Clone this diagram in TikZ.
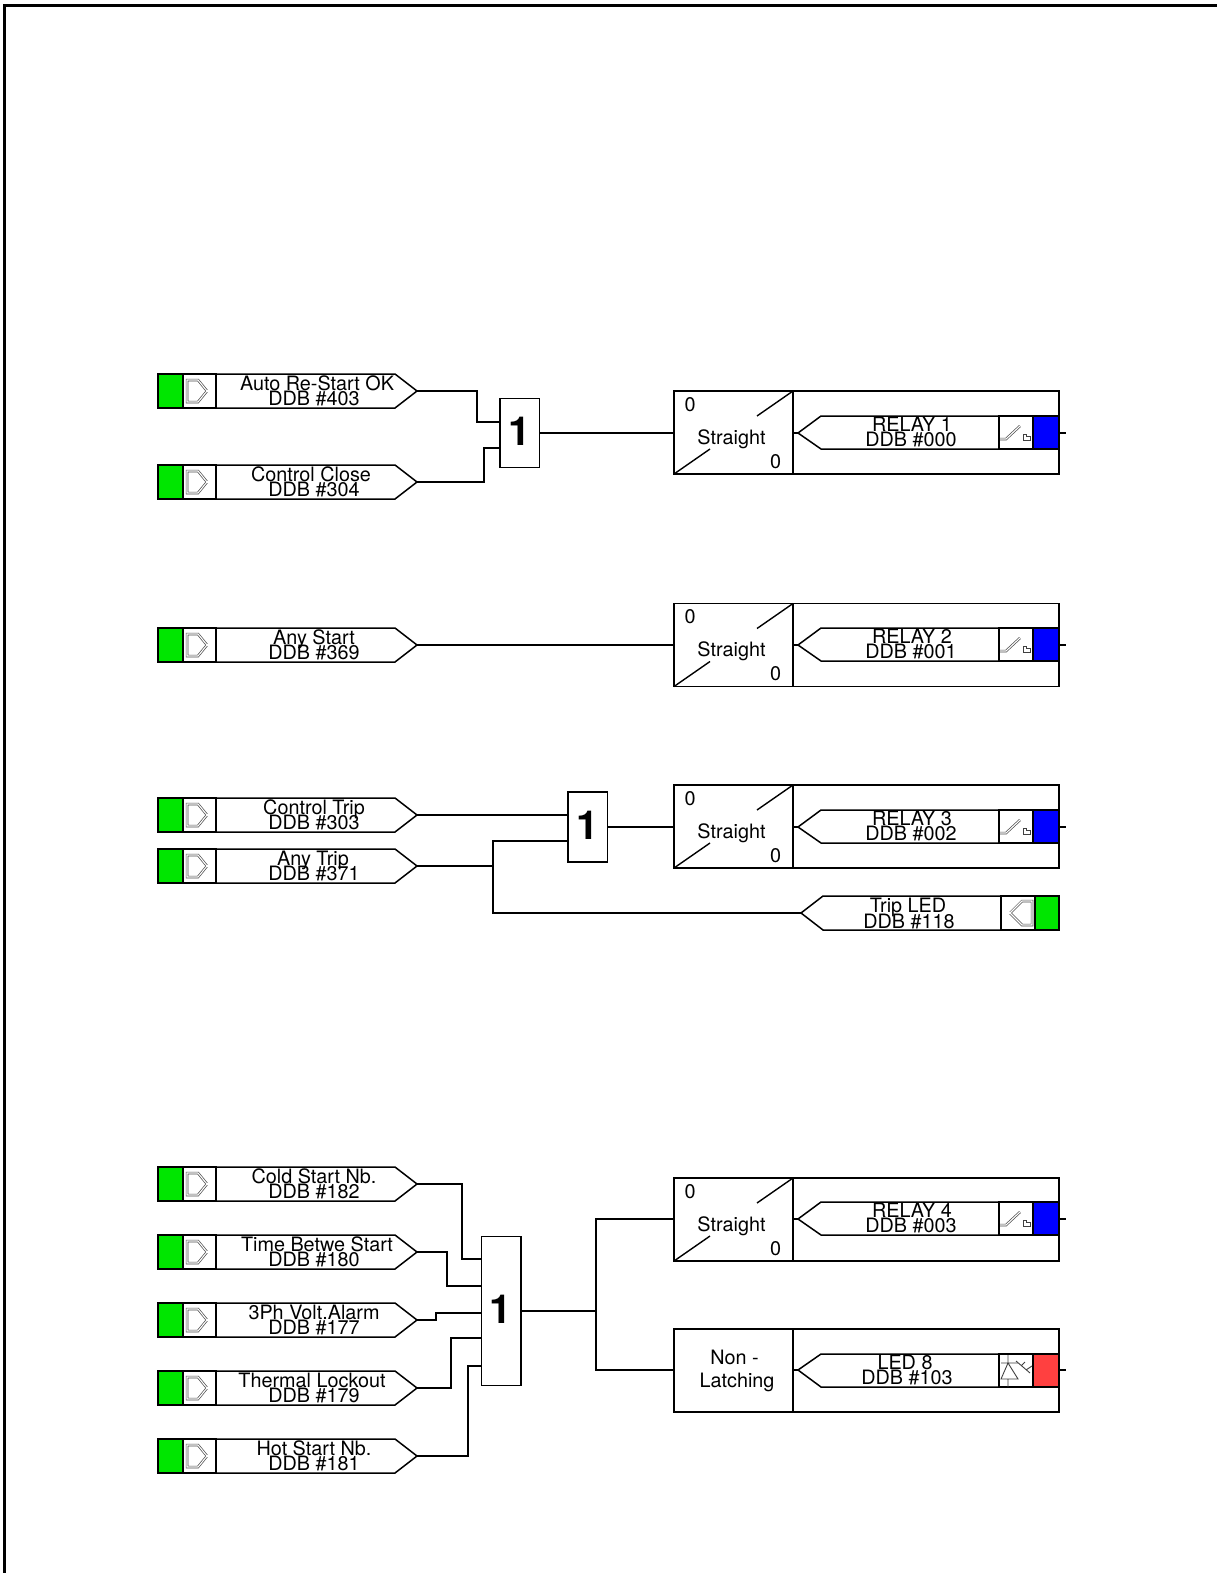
\documentclass[tikz,border=0pt]{standalone}
\usepackage{fontspec}
\setmainfont{TeX Gyre Heros}
\definecolor{ingreen}{HTML}{00E600}
\definecolor{relayblue}{HTML}{0000FF}
\definecolor{ledred}{HTML}{FF4040}
\tikzset{
  wire/.style={line width=1.4pt,line join=miter,black},
  outline/.style={line width=1.5pt,line join=miter,black,fill=white},
  txt/.style={inner sep=0pt,anchor=base,font=\fontsize{19.8}{20}\selectfont,text=black},
  bigone/.style={inner sep=0pt,anchor=center,font=\fontsize{40}{40}\selectfont\bfseries,text=black},
  orbox/.style={draw,line width=1.5pt,fill=white,inner sep=0pt,minimum width=39.5pt},
  icon/.style={line width=.7pt,draw=black!70,double=white,double distance=1.1pt,line join=miter},
}
\newcommand{\GateOne}{\raisebox{2.5pt}{1}}
% name, mid y, line-one text, its x, number text
\newcommand{\InTag}[5]{%
  \filldraw[outline] (216,#2-17)--(395,#2-17)--(417,#2)--(395,#2+17)--(216,#2+17)--cycle;
  \filldraw[outline] (183,#2-17) rectangle (216,#2+17);
  \filldraw[line width=1.5pt,draw=black,fill=ingreen] (158,#2-17) rectangle (183,#2+17);
  \draw[icon] (187,#2-11)--(198,#2-11)--(207,#2)--(198,#2+11)--(187,#2+11)--cycle;
  \draw[icon] (207,#2)--(214,#2);
  \node[txt] (#1a) at (#4,#2-0.5) {#3};
  \node[txt] (#1b) at (314,#2+14) {#5};
  \coordinate (#1) at (417,#2);
}
\newcommand{\OutFrame}[1]{%
  \filldraw[outline] (674,#1) rectangle (1059,#1+83);
  \draw[wire] (793,#1) -- (793,#1+83);
}
% relay tag: name, mid y, text, x1, number, x2
\newcommand{\RelayTag}[6]{%
  \draw[wire] (793,#2)--(798,#2);
  \draw[wire] (1059,#2)--(1066,#2);
  \filldraw[outline] (798,#2)--(821,#2-17)--(999,#2-17)--(999,#2+16)--(821,#2+16)--cycle;
  \filldraw[outline] (999,#2-17) rectangle (1033,#2+16);
  \filldraw[line width=1.5pt,draw=black,fill=relayblue] (1033,#2-17) rectangle (1059,#2+16);
  \draw[icon] (1000,#2+6)--(1006,#2+6)--(1020,#2-7);
  \draw[line width=.8pt,black!75] (1023,#2+1)--(1023,#2+7)--(1030,#2+7)--(1030,#2+3.5)--(1026,#2+3.5)--(1026,#2+1)--cycle;
  \node[txt] (#1a) at (#4,#2-1.5) {#3};
  \node[txt] (#1b) at (#6,#2+13.5) {#5};
  \coordinate (#1) at (674,#2);
}
% straight block: top y
\newcommand{\Straight}[2]{%
  \OutFrame{#2}
  \draw[wire] (793,#2)--(757,#2+25);
  \draw[wire] (674,#2+83)--(710,#2+58);
  \node[txt] (#1z) at (690,#2+20) {0};
  \node[txt] (#1s) at (731.5,#2+53) {Straight};
  \node[txt] (#1o) at (775.5,#2+77) {0};
}
\begin{document}
\begin{tikzpicture}[x=1pt,y=-1pt]
\useasboundingbox (0,0) rectangle (1217,1573);
\fill[white] (0,0) rectangle (1217,1573);
\draw[line width=3pt] (4.5,1573)--(4.5,5.3)--(1217,5.3);

% inputs
\InTag{iA}{391}{Auto Re-Start OK}{317}{DDB \#403}
\InTag{iB}{482}{Control Close}{311}{DDB \#304}
\InTag{iC}{645}{Any Start}{314}{DDB \#369}
\InTag{iD}{815}{Control Trip}{314}{DDB \#303}
\InTag{iE}{866}{Any Trip}{313}{DDB \#371}
\InTag{iF}{1184}{Cold Start Nb.}{314}{DDB \#182}
\InTag{iG}{1252}{Time Betwe Start}{317}{DDB \#180}
\InTag{iH}{1320}{3Ph Volt.Alarm}{314}{DDB \#177}
\InTag{iI}{1388}{Thermal Lockout}{312}{DDB \#179}
\InTag{iJ}{1456}{Hot Start Nb.}{314}{DDB \#181}

% OR gates
\node[orbox,minimum height=69pt,bigone] (orA) at (519.5,433) {\GateOne};
\node[orbox,minimum height=70pt,bigone] (orB) at (587.5,827) {\GateOne};
\node[orbox,minimum height=149pt,bigone] (orC) at (501,1311) {\GateOne};

% output blocks
\Straight{sA}{391}
\RelayTag{rA}{433}{RELAY 1}{912}{DDB \#000}{911}
\Straight{sB}{603.5}
\RelayTag{rB}{645}{RELAY 2}{912}{DDB \#001}{911}
\Straight{sC}{785}
\RelayTag{rC}{827}{RELAY 3}{912}{DDB \#002}{911}
\Straight{sD}{1178}
\RelayTag{rD}{1219}{RELAY 4}{912}{DDB \#003}{911}

% non-latching LED block
\OutFrame{1329}
\node[txt] (nlA) at (734.5,1364) {Non -};
\node[txt] (nlB) at (737,1387.5) {Latching};
\draw[wire] (793,1370)--(798,1370);
\draw[wire] (1059,1370)--(1066,1370);
\filldraw[outline] (798,1370)--(821,1354)--(999,1354)--(999,1387)--(821,1387)--cycle;
\filldraw[outline] (999,1354) rectangle (1033,1387);
\filldraw[line width=1.5pt,draw=black,fill=ledred] (1033,1354) rectangle (1059,1387);
\draw[line width=.9pt,black!75] (1008,1355)--(1008,1363) (1001,1363)--(1018,1363) (1008,1363)--(1001,1379)--(1018,1379)--cycle (1008,1379)--(1008,1387);
\draw[line width=.9pt,black!75] (1016,1361)--(1030,1373) (1022,1365)--(1025,1362) (1026,1370)--(1032,1366);
\node[txt] (ledA) at (905,1369) {LED 8};
\node[txt] (ledB) at (907,1384.5) {DDB \#103};

% Trip LED tag
\filldraw[outline] (801,913)--(823,896)--(1001,896)--(1001,930)--(823,930)--cycle;
\filldraw[outline] (1001,896) rectangle (1035,930);
\filldraw[line width=1.5pt,draw=black,fill=ingreen] (1035,896) rectangle (1059,930);
\draw[icon] (1010,913)--(1022,901)--(1032,901)--(1032,925)--(1022,925)--cycle;
\draw[icon] (1002,913)--(1010,913);
\node[txt] (tlA) at (908,912) {Trip LED};
\node[txt] (tlB) at (909,928) {DDB \#118};
\coordinate (tl) at (801,913);

% connection points on the gates
\coordinate (oA1) at (orA.west |- 0,422);
\coordinate (oA2) at (orA.west |- 0,448);
\coordinate (oB1) at (orB.west |- iD);
\coordinate (oB2) at (orB.west |- 0,841);
\coordinate (oC1) at (orC.west |- 0,1259);
\coordinate (oC2) at (orC.west |- 0,1286);
\coordinate (oC3) at (orC.west |- 0,1313);
\coordinate (oC4) at (orC.west |- 0,1338);
\coordinate (oC5) at (orC.west |- 0,1366);
\coordinate (sDin) at (674,1219);
\coordinate (nlIn) at (674,1370);

% connectors
\draw[wire] (iA) -| (477,422) -- (oA1);
\draw[wire] (iB) -| (484,448) -- (oA2);
\draw[wire] (orA.east) -- (rA);
\draw[wire] (iC) -- (rB);
\draw[wire] (iD) -- (oB1);
\draw[wire] (iE) -| (493,841) -- (oB2);
\draw[wire] (493,866) |- (tl);
\draw[wire] (orB.east) -- (rC);
\draw[wire] (iF) -| (462,1259) -- (oC1);
\draw[wire] (iG) -| (447,1286) -- (oC2);
\draw[wire] (iH) -| (436,1313) -- (oC3);
\draw[wire] (iI) -| (451,1338) -- (oC4);
\draw[wire] (iJ) -| (468,1366) -- (oC5);
\draw[wire] (orC.east) -- (596,1311);
\draw[wire] (sDin) -| (596,1370) -- (nlIn);
\end{tikzpicture}
\end{document}
